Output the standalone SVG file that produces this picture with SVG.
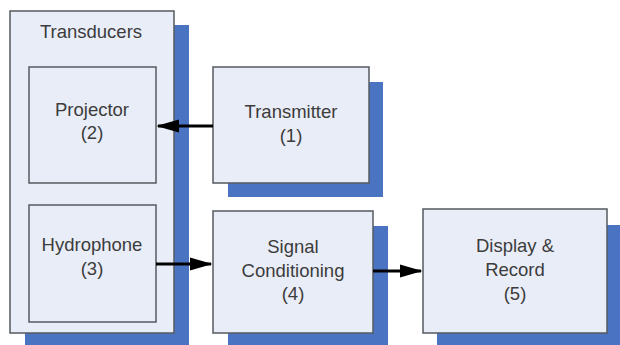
<svg xmlns="http://www.w3.org/2000/svg" width="620" height="345" viewBox="0 0 620 345">
<defs>
<style>
.shadow{fill:#4a74c2}
.box{fill:#e9edf7;stroke:#555a60;stroke-width:1.5}
.lbl{font-family:"Liberation Sans",Arial,sans-serif;font-size:18.5px;fill:#3c3c3c;text-anchor:middle}
.conn{stroke:#000;stroke-width:3;fill:none}
</style>
<marker id="ah" markerWidth="7.5" markerHeight="4.4" refX="7" refY="2.2" orient="auto" markerUnits="strokeWidth"><path d="M0,0 L7.5,2.2 L0,4.4 z" fill="#000"/></marker>
</defs>
<rect width="620" height="345" fill="#fff"/>
<g id="transducers">
<rect class="shadow" x="25" y="25" width="164" height="320"/>
<rect class="box" x="10" y="11" width="164" height="322"/>
<text class="lbl" x="91" y="38">Transducers</text>
</g>
<g id="projector">
<rect class="box" x="29" y="67" width="127" height="116"/>
<text class="lbl" x="92" y="116">Projector</text>
<text class="lbl" x="92" y="139">(2)</text>
</g>
<g id="hydrophone">
<rect class="box" x="29" y="205" width="127" height="117"/>
<text class="lbl" x="92" y="251">Hydrophone</text>
<text class="lbl" x="92" y="275">(3)</text>
</g>
<g id="transmitter">
<rect class="shadow" x="228" y="82" width="155" height="115"/>
<rect class="box" x="213" y="67" width="156" height="116"/>
<text class="lbl" x="291" y="118">Transmitter</text>
<text class="lbl" x="291" y="142">(1)</text>
</g>
<g id="signal">
<rect class="shadow" x="228" y="226" width="160" height="119"/>
<rect class="box" x="213" y="211" width="160" height="122"/>
<text class="lbl" x="293" y="253">Signal</text>
<text class="lbl" x="293" y="277">Conditioning</text>
<text class="lbl" x="293" y="300">(4)</text>
</g>
<g id="display">
<rect class="shadow" x="437" y="225" width="183" height="120"/>
<rect class="box" x="423" y="209" width="184" height="124"/>
<text class="lbl" x="515" y="252">Display &amp;</text>
<text class="lbl" x="515" y="276">Record</text>
<text class="lbl" x="515" y="300">(5)</text>
</g>
<g id="connectors">
<line class="conn" x1="213" y1="126" x2="158" y2="126" marker-end="url(#ah)"/>
<line class="conn" x1="156" y1="264" x2="211" y2="264" marker-end="url(#ah)"/>
<line class="conn" x1="373" y1="271" x2="421" y2="271" marker-end="url(#ah)"/>
</g>
</svg>
